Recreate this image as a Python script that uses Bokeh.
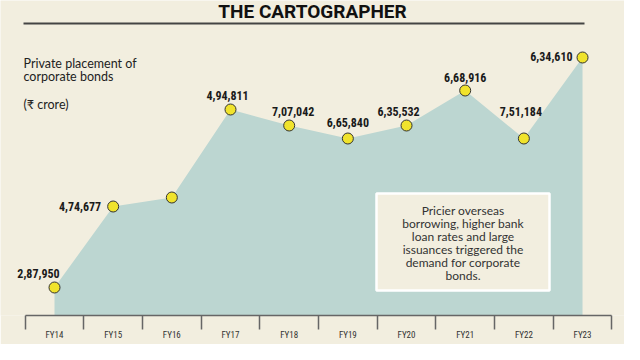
from bokeh.plotting import figure
from bokeh.models import FixedTicker, ColumnDataSource, Range1d
from bokeh.core.properties import value
from bokeh.embed import file_html
from bokeh.resources import INLINE

# ---- data ----
categories = ["FY14", "FY15", "FY16", "FY17", "FY18", "FY19", "FY20", "FY21", "FY22", "FY23"]
# plotted heights (crore)
plotted = [264400, 450700, 471400, 673800, 637000, 607100, 637000, 717500, 607100, 793400]
value_labels = ["2,87,950", "4,74,677", "", "4,94,811", "7,07,042", "6,65,840",
                "6,35,532", "6,68,916", "7,51,184", "6,34,610"]
title_text = "THE CARTOGRAPHER"
subtitle_lines = ["Private placement of", "corporate bonds", "(\u20b9 crore)"]
note_lines = ["Pricier overseas", "borrowing, higher bank", "loan rates and large",
              "issuances triggered the", "demand for corporate", "bonds."]

# ---- layout ----
BG = "#f2eedf"
TEAL = "#bcd6d1"
COND = "'Roboto Condensed', 'Liberation Sans Narrow', 'DejaVu Sans Condensed', sans-serif"
W, H = 624, 344
BOTTOM = 29
FRAME_H = H - BOTTOM
STEP = 58.67          # px per category
X0_PAGE = 62          # page x of first category
Y0 = 200000
PER_PX = 2300
x_start = -(X0_PAGE - 8) / STEP
x_end = x_start + W / STEP
BASE_PAGE = 8 + FRAME_H


def dx(px):
    return x_start + (px - 8) / STEP


def dy(py):
    return Y0 + (BASE_PAGE - py) * PER_PX


p = figure(width=W, height=H, output_backend="svg", toolbar_location=None,
           x_range=Range1d(x_start, x_end), y_range=Range1d(Y0, Y0 + FRAME_H * PER_PX),
           y_axis_location=None, min_border_left=0, min_border_right=0,
           min_border_top=0, min_border_bottom=BOTTOM)
p.background_fill_color = BG
p.border_fill_color = BG
p.outline_line_color = None
p.grid.visible = False

xs = list(range(len(categories)))
src = ColumnDataSource(dict(x=xs, y=plotted, lab=value_labels,
                            dxo=[-16, -12, 0, -3, 4, 0, -8, 0, -3, -10],
                            dyo=[-14, 0, 0, -14, -14, -16, -14, -13, -27, -1],
                            al=["center", "right", "center", "center", "center", "center",
                                "center", "center", "center", "right"]))

p.varea(x="x", y1=Y0, y2="y", source=src, fill_color=TEAL, fill_alpha=1)
p.scatter(x="x", y="y", source=src, size=11, fill_color="#f0e32c",
          line_color="#333333", line_width=1)
p.text(x="x", y="y", text="lab", source=src, x_offset="dxo", y_offset="dyo",
       text_align="al", text_baseline="middle", text_font=value(COND),
       text_font_style="bold", text_font_size="12px", text_color="#1a1a1a")

# axis
ax = p.xaxis[0]
ax.ticker = FixedTicker(ticks=xs, minor_ticks=[i - 0.5 for i in range(len(categories) + 1)])
ax.major_label_overrides = {i: c for i, c in enumerate(categories)}
ax.bounds = (-0.5, len(categories) - 0.5)
ax.axis_line_color = "#666666"
ax.axis_line_width = 1.5
ax.major_tick_out = 0
ax.major_tick_in = 0
ax.minor_tick_out = 14
ax.minor_tick_in = 0
ax.minor_tick_line_color = "#666666"
ax.minor_tick_line_width = 1.5
ax.major_label_standoff = 0
ax.major_label_text_font = COND
ax.major_label_text_font_size = "9px"
ax.major_label_text_color = "#333333"

# title and rule
p.text(x=[dx(320)], y=[dy(19)], text=[title_text], text_align="center",
       text_baseline="middle", text_font=value("Roboto"), text_font_style="bold",
       text_font_size="19px", text_color="#111111")
p.segment(x0=[dx(31)], y0=[dy(31)], x1=[dx(592)], y1=[dy(31)],
          line_color="#444444", line_width=2)

# subtitle
sub_y = [71, 84, 112]
p.text(x=[dx(31)] * 3, y=[dy(v) for v in sub_y], text=subtitle_lines, text_align="left",
       text_baseline="middle", text_font=value("Lato"), text_font_size="12.5px",
       text_color="#222222")

# note box
p.quad(left=[dx(384)], right=[dx(557)], top=[dy(201)], bottom=[dy(298)],
       fill_color=BG, line_color="white", line_width=2.5)
p.text(x=[dx(470.5)] * len(note_lines), y=[dy(218 + 13 * i) for i in range(len(note_lines))],
       text=note_lines, text_align="center", text_baseline="middle",
       text_font=value("Lato"), text_font_size="12px", text_color="#333333")

open("out.html", "w").write(file_html(p, INLINE))
